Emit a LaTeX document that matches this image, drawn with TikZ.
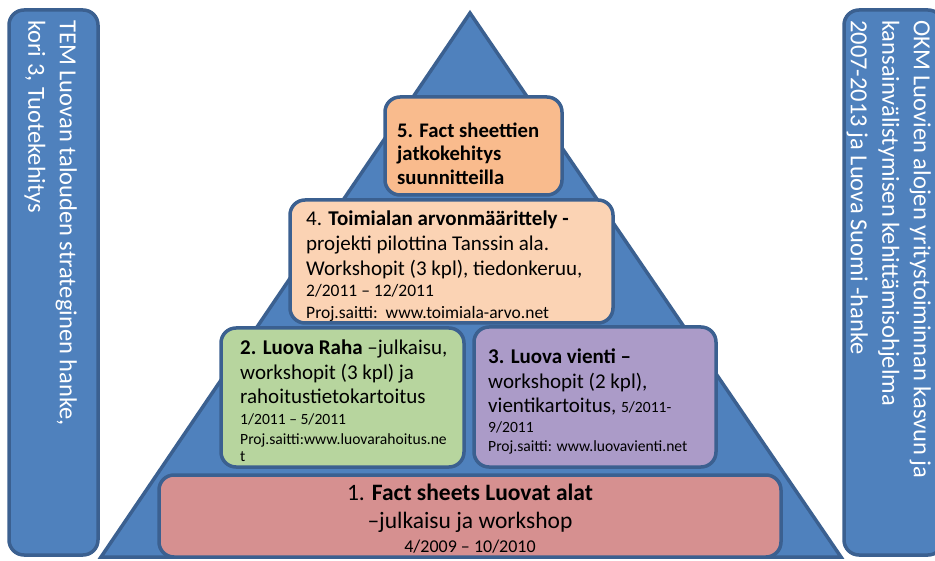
\documentclass[tikz,border=0pt]{standalone}
\usepackage{fontspec}
\setmainfont{Carlito}
\definecolor{triblue}{HTML}{4F81BD}
\definecolor{edgeblue}{HTML}{3B6090}
\definecolor{fillfive}{HTML}{F9BB8D}
\definecolor{fillfour}{HTML}{FBD3B4}
\definecolor{filltwo}{HTML}{B7D59E}
\definecolor{fillthree}{HTML}{AB9BC8}
\definecolor{fillone}{HTML}{D69090}
\begin{document}
\begin{tikzpicture}[x=1pt,y=-1pt,
  panel/.style={draw=edgeblue, line width=3.5pt, rounded corners=15pt, inner sep=0pt},
  txtbox/.style={inner sep=0pt, align=left, anchor=north west, text=black},
  sidetxt/.style={inner sep=0pt, align=left, anchor=north west, text=white, rotate=-90,
    font=\fontsize{24.5}{31.5}\selectfont},
  bigtxt/.style={font=\fontsize{21}{25}\selectfont},
  smalltxt/.style={font=\fontsize{15.6}{20}\selectfont}
]
\useasboundingbox (0,0) rectangle (935,561);
% triangle
\coordinate (apex) at (470,13);
\coordinate (bl) at (101,557);
\coordinate (br) at (841,557);
\draw[draw=edgeblue, fill=triblue, line width=3.5pt, line join=miter] (apex) -- (br) -- (bl) -- cycle;
% side panels
\node[panel, fill=triblue, minimum width=89pt, minimum height=545pt] (left) at (53.5,282.5) {};
\node[panel, fill=triblue, minimum width=99pt, minimum height=545pt] (right) at (893.5,282.5) {};
\node[sidetxt] (lefttext) at (82,20) {\strut TEM Luovan talouden strateginen hanke,\\ kori 3, Tuotekehitys};
\node[sidetxt] (righttext) at (936,20) {\strut OKM Luovien alojen yritystoiminnan kasvun ja\\ kansainvälistymisen kehittämisohjelma\\ 2007-2013 ja Luova Suomi -hanke};
% pyramid boxes
\node[panel, fill=fillfive, minimum width=177pt, minimum height=98pt] (b5) at (473.5,146) {};
\node[panel, fill=fillfour, minimum width=323pt, minimum height=123pt] (b4) at (451.5,261.5) {};
\node[panel, fill=filltwo, minimum width=243pt, minimum height=139pt] (b2) at (342.5,397.5) {};
\node[panel, fill=fillthree, minimum width=242pt, minimum height=140pt] (b3) at (595,397) {};
\node[panel, fill=fillone, minimum width=622pt, minimum height=82pt] (b1) at (470,516) {};
% texts
\node[txtbox, font=\fontsize{20.7}{23.5}\selectfont\bfseries] (t5) at (397,120.5)
  {\strut 5. Fact sheettien\\ jatkokehitys\\ suunnitteilla};
\node[txtbox, bigtxt] (t4) at (306,207.5)
  {\strut 4. \textbf{Toimialan arvonmäärittely -}\\
   projekti pilottina Tanssin ala.\\
   Workshopit (3 kpl), tiedonkeruu,\\[-4pt]
   {\fontsize{17.5}{20}\selectfont 2/2011 – 12/2011}\\[-3pt]
   {\fontsize{17.5}{20}\selectfont Proj.saitti:\ \ www.toimiala-arvo.net}};
\node[txtbox, bigtxt] (t2) at (240,336.5)
  {\strut\textbf{2. Luova Raha} –julkaisu,\\
   workshopit (3 kpl) ja\\[-1pt]
   rahoitustietokartoitus\\[-4pt]
   {\fontsize{15.6}{20}\selectfont 1/2011 – 5/2011}\\[-5pt]
   {\fontsize{15.6}{20}\selectfont Proj.saitti:www.luovarahoitus.ne}\\[-8pt]
   {\fontsize{15.6}{20}\selectfont t}};
\node[txtbox, bigtxt] (t3) at (488,345.5)
  {\strut\textbf{3. Luova vienti –}\\
   workshopit (2 kpl),\\[-1pt]
   vientikartoitus, {\fontsize{15.6}{20}\selectfont 5/2011-}\\[-5pt]
   {\fontsize{15.6}{20}\selectfont 9/2011}\\[-6pt]
   {\fontsize{15.6}{20}\selectfont Proj.saitti: www.luovavienti.net}};
\node[inner sep=0pt, align=center, anchor=north, text=black, font=\fontsize{23.5}{28}\selectfont] (t1) at (470,481)
  {\strut 1. \textbf{Fact sheets Luovat alat}\\
   –julkaisu ja workshop\\[-4pt]
   {\fontsize{18}{20}\selectfont 4/2009 – 10/2010}};
\end{tikzpicture}
\end{document}
